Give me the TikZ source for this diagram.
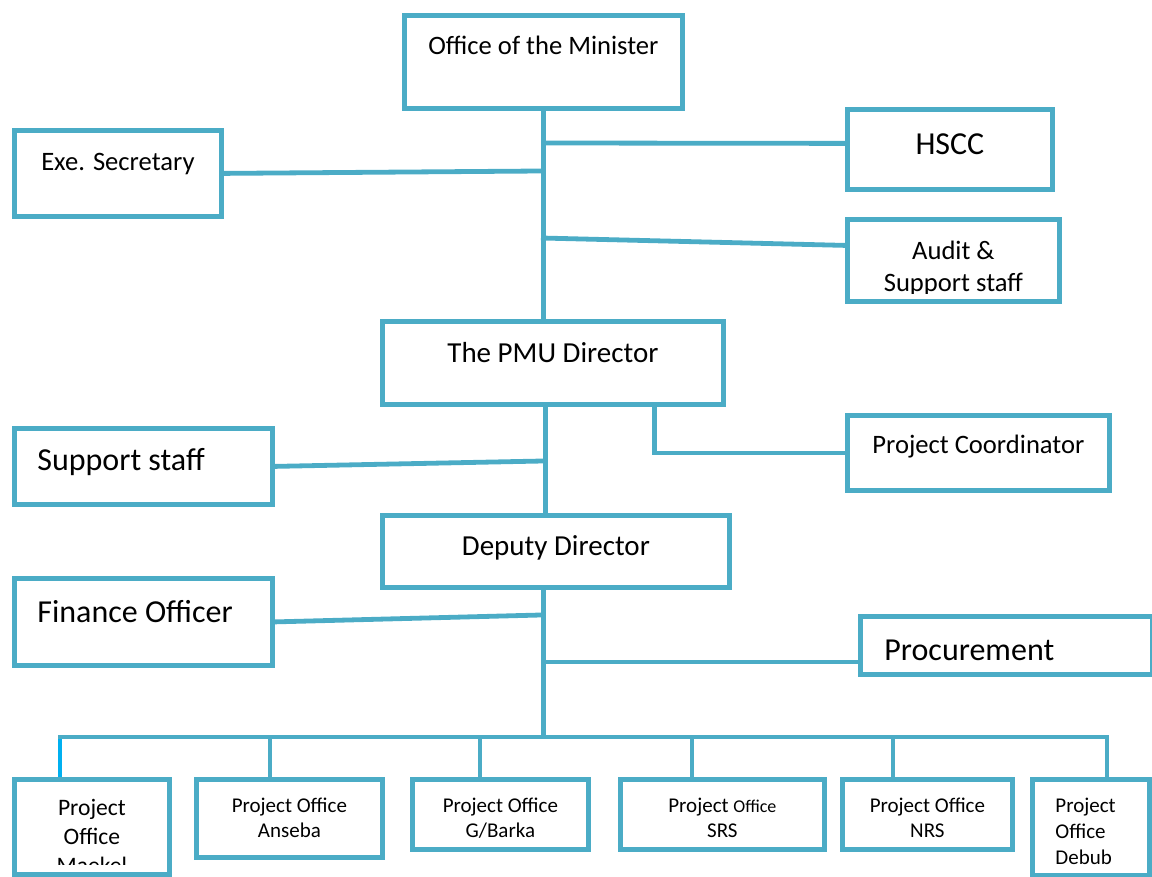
\documentclass[tikz,border=0pt]{standalone}
\usepackage{fontspec}
\setmainfont{Carlito}
\definecolor{pmublue}{RGB}{75,172,198}
\definecolor{dropblue}{RGB}{0,176,240}

\begin{document}
\begin{tikzpicture}[x=0.5pt,y=-0.5pt,
    orgbox/.style={draw=pmublue, line width=2.4pt, fill=white, inner sep=0pt,
      anchor=north west, align=flush center},
    link/.style={draw=pmublue, line width=2.4pt},
    fmed/.style={font=\fontsize{13.3}{16}\selectfont},
    fbig/.style={font=\fontsize{16}{19}\selectfont},
    fpmu/.style={font=\fontsize{14.5}{17}\selectfont},
    fsmall/.style={font=\fontsize{10.5}{12.5}\selectfont},
    fmaekel/.style={font=\fontsize{11.8}{14.5}\selectfont}]
    \useasboundingbox (0,0) rectangle (1152,877);

    % minister and the offices around him
    \node[orgbox, fmed, text width=139pt, text height=19.5pt, text depth=27pt] (minister) at (402,13) {Office of the Minister};
    \node[orgbox, fmed, text width=103.5pt, text height=20pt, text depth=23pt] (exe) at (12,128) {Exe. Secretary};
    \node[orgbox, fbig, text width=102.5pt, text height=22.5pt, text depth=17.5pt] (hscc) at (845,107) {HSCC};
    \node[orgbox, minimum width=106pt, minimum height=41pt,
      path picture={
        \clip (path picture bounding box.north west) rectangle ([yshift=4pt]path picture bounding box.south east);
        \node[fmed, text width=106pt, align=flush center, inner sep=0pt, anchor=base] (audit-text)
          at ([yshift=-20pt]path picture bounding box.north) {Audit \&\\Support staff};
      }] (audit) at (845,217) {};

    % PMU
    \node[orgbox, fpmu, text width=170.5pt, text height=20.5pt, text depth=21pt] (pmu) at (380,319) {The PMU Director};
    \node[orgbox, fbig, align=flush left, inner xsep=11.5pt, text width=106pt, text height=21pt, text depth=17pt] (support) at (12,426) {Support staff};
    \node[orgbox, fmed, text width=131pt, text height=19pt, text depth=18.5pt] (coord) at (845,413) {Project Coordinator};
    \node[orgbox, fpmu, text width=173.5pt, text height=20pt, text depth=16pt] (deputy) at (380,513) {Deputy Director};
    \node[orgbox, fbig, align=flush left, inner xsep=11.5pt, text width=106pt, text height=22pt, text depth=21.5pt] (finance) at (12,576) {Finance Officer};
    \node[orgbox, fbig, align=flush left, inner xsep=12pt, text width=122pt, text height=22pt, text depth=7pt] (procure) at (858,614) {Procurement};

    % project offices
    \node[orgbox, minimum width=77.5pt, minimum height=47.5pt,
      path picture={
        \clip (path picture bounding box.north west) rectangle ([yshift=5pt]path picture bounding box.south east);
        \node[fmaekel, text width=77.5pt, align=flush center, inner sep=0pt, anchor=base] (maekel-text)
          at ([yshift=-18pt]path picture bounding box.north) {Project\\Office\\Maekel};
      }] (maekel) at (12,777) {};
    \node[orgbox, fsmall, text width=93pt, text height=16.5pt, text depth=22.5pt] (anseba) at (194,777) {Project Office\\Anseba};
    \node[orgbox, fsmall, text width=88pt, text height=16.5pt, text depth=18.5pt] (gbarka) at (410,777) {Project Office\\G/Barka};
    \node[orgbox, fsmall, text width=102pt, text height=16.5pt, text depth=18.5pt] (srs) at (618,777) {Project {\fontsize{9}{12.5}\selectfont Office}\\SRS};
    \node[orgbox, fsmall, text width=85pt, text height=16.5pt, text depth=18.5pt] (nrs) at (840,777) {Project Office\\NRS};
    \node[orgbox, fsmall, align=flush left, inner xsep=11.5pt, text width=35.5pt, text height=16.5pt, text depth=31.5pt,
      font=\fontsize{10.5}{13}\selectfont] (debub) at (1030,777) {Project\\Office\\Debub};

    % spine from the minister down to the PMU
    \coordinate (j-hscc) at (541,143);
    \coordinate (j-exe) at (541,171);
    \coordinate (j-audit) at (541,238);
    \draw[link] (minister.south) -- (minister.south |- pmu.north);
    \draw[link] (exe.east) -- (j-exe);
    \draw[link] (j-hscc) -- ([yshift=3pt]hscc.west);
    \draw[link] (j-audit) -- ([yshift=7.5pt]audit.west);

    % PMU director to deputy
    \coordinate (pmu-foot) at ([xshift=-3.75pt]pmu.south);
    \coordinate (pmu-side) at ([xshift=50.75pt]pmu.south);
    \coordinate (j-sup) at (543,461);
    \draw[link] (pmu-foot) -- (pmu-foot |- deputy.north);
    \draw[link] (support.east) -- (j-sup);
    \draw[link, line join=miter] (pmu-side) |- (coord.west);

    % deputy down to the bus
    \coordinate (dep-foot) at ([xshift=-6.25pt]deputy.south);
    \coordinate (j-fin) at (541,615);
    \coordinate (j-proc) at (541,662);
    \coordinate (bus-w) at (60,737);
    \coordinate (bus-e) at (1107,737);
    \draw[link] (dep-foot) -- (dep-foot |- bus-w);
    \draw[link] (finance.east) -- (j-fin);
    \draw[link] (j-proc) -- (j-proc -| procure.west);

    % bus and drops to the project offices
    \draw[link, draw=dropblue] (bus-w) -- (bus-w |- maekel.north);
    \draw[link, line cap=rect] (bus-w) -- (bus-e);
    \foreach \name/\x in {anseba/270, gbarka/480, srs/692, nrs/893, debub/1107} {
        \coordinate (d-\name) at (\x,737);
        \draw[link] (d-\name) -- (d-\name |- \name.north);
    }
\end{tikzpicture}
\end{document}
